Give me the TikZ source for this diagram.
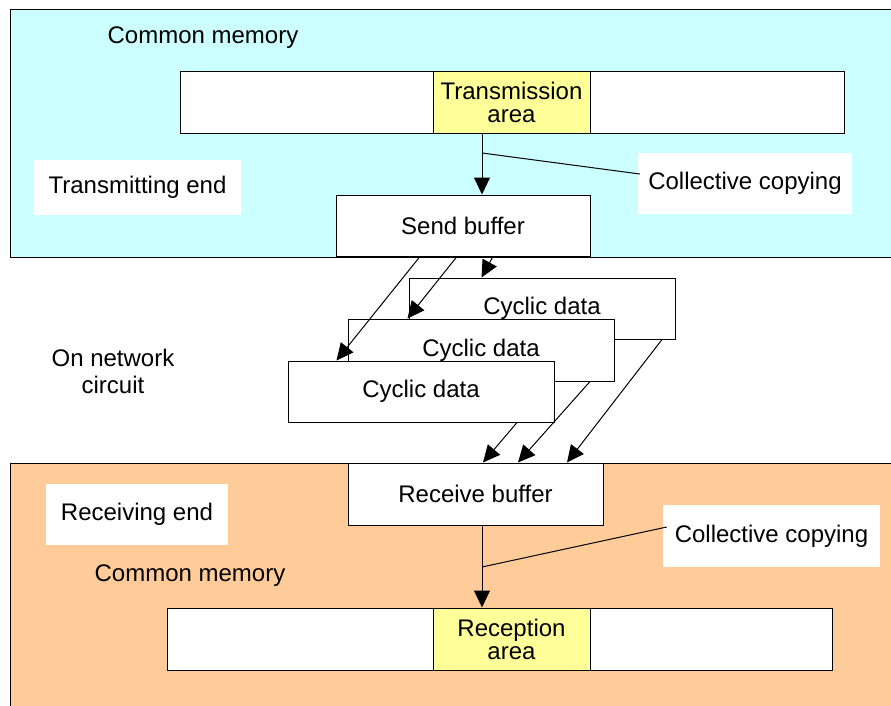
\documentclass[tikz,border=0pt]{standalone}
\usepackage{fontspec}
\setmainfont{Liberation Sans}
\usetikzlibrary{arrows.meta,calc}
\definecolor{cyanbg}{HTML}{CCFFFF}
\definecolor{orangebg}{HTML}{FFCC99}
\definecolor{areayel}{HTML}{FFFF99}
\begin{document}
\begin{tikzpicture}[x=1pt,y=-1pt, font=\fontsize{24}{23}\selectfont,
  region/.style={draw=black, line width=1pt, anchor=north west, inner sep=0},
  box/.style={draw=black, fill=white, line width=1pt, inner sep=0, align=center},
  area/.style={box, fill=areayel},
  label/.style={fill=white, inner sep=0, align=center},
  txt/.style={inner sep=0, align=center},
  arr/.style={line width=1pt, -{Triangle[length=17pt,width=16pt]}},
  lead/.style={line width=1pt}]
\useasboundingbox (0,0) rectangle (891,705);
\clip (0,0) rectangle (891,705);
\fill[white] (0,0) rectangle (891,705);
% regions
\node[region, fill=cyanbg, minimum width=900pt, minimum height=248pt] (tx) at (10,9) {};
\node[region, fill=orangebg, minimum width=900pt, minimum height=260pt] (rx) at (10,463) {};
% transmitting side
\node[txt] (cm1) at (203,38) {Common memory};
\node[box, minimum width=664pt, minimum height=62pt] (tbar) at (512,102) {};
\node[area, minimum width=157pt, minimum height=62pt] (tarea) at (511.5,102) {Transmission\\area};
\node[label, minimum width=207pt, minimum height=55pt] (tend) at (137.5,187.5) {Transmitting end};
\node[label, minimum width=214pt, minimum height=61pt] (cc1) at (745,183.5) {Collective copying};
\node[box, minimum width=254pt, minimum height=61pt] (sbuf) at (463,225.5) {Send buffer};
\draw[arr] ([xshift=-29.5pt]tarea.south) -- ([xshift=-29.5pt]tarea.south |- sbuf.north);
\coordinate (j1) at (482,153);
\draw[lead] (j1) -- ([yshift=9.5pt,xshift=2pt]cc1.west);
% network
\node[txt] (net) at (113,371) {On network\\[4pt]circuit};
\node[box, minimum width=266pt, minimum height=61pt] (cyc3) at (542,308.5) {Cyclic data};
\node[box, minimum width=266pt, minimum height=62pt] (cyc2) at (481,350) {Cyclic data};
\node[box, minimum width=266pt, minimum height=61pt] (cyc1) at (421,391.5) {Cyclic data};
\draw[arr] ([xshift=-43pt]sbuf.south) -- ([xshift=49pt]cyc1.north west);
\draw[arr] ([xshift=-6pt]sbuf.south) -- ([xshift=60pt]cyc2.north west);
\draw[arr] ([xshift=30pt]sbuf.south) -- ([xshift=73pt]cyc3.north west);
% receiving side
\node[box, minimum width=255pt, minimum height=62pt] (rbuf) at (475.5,494) {Receive buffer};
\draw[arr] ([xshift=96pt]cyc1.south) -- ([xshift=7.5pt]rbuf.north);
\draw[arr] ([xshift=109pt]cyc2.south) -- ([xshift=42.5pt]rbuf.north);
\draw[arr] ([xshift=120pt]cyc3.south) -- ([xshift=91.5pt]rbuf.north);
\node[label, minimum width=182pt, minimum height=61pt] (rend) at (137,514.5) {Receiving end};
\node[txt] (cm2) at (190,576) {Common memory};
\node[label, minimum width=217pt, minimum height=62pt] (cc2) at (771.5,536) {Collective copying};
\node[box, minimum width=665pt, minimum height=62pt] (rbar) at (499.5,639) {};
\node[area, minimum width=157pt, minimum height=62pt] (rarea) at (511.5,639) {Reception\\area};
\draw[arr] ([xshift=6.5pt]rbuf.south) -- ([xshift=6.5pt]rbuf.south |- rarea.north);
\coordinate (j2) at (482,567);
\draw[lead] (j2) -- ([yshift=9pt,xshift=4pt]cc2.west);
\end{tikzpicture}
\end{document}
